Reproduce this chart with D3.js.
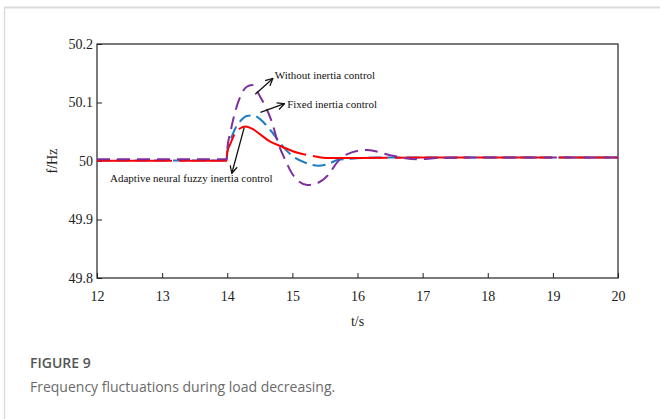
<!DOCTYPE html>
<html><head><meta charset="utf-8">
<script src="https://cdn.jsdelivr.net/npm/d3@7"></script>
<style>
html,body{margin:0;padding:0;background:#fff;}
svg{display:block;}
.serif{font-family:'Liberation Serif','Times New Roman',serif;}
</style></head>
<body>
<svg id="chart" width="660" height="419"></svg>
<script>
// ---- data ----
const xTicks = [12, 13, 14, 15, 16, 17, 18, 19, 20];
const yTicks = [49.8, 49.9, 50, 50.1, 50.2];
const seriesNames = ["Fixed inertia control", "Adaptive neural fuzzy inertia control", "Without inertia control"];

const tFixed = [12, 13, 13.99, 14.0, 14.05, 14.1, 14.2, 14.3, 14.4, 14.5, 14.66, 14.9, 15.02, 15.2, 15.4, 15.55, 15.7, 15.9, 16.3, 17, 18, 19, 20];
const vFixed = [50.001, 50.001, 50.001, 50.015, 50.035, 50.05, 50.068, 50.077, 50.078, 50.072, 50.053, 50.019, 50.007, 49.997, 49.992, 49.995, 50.002, 50.004, 50.006, 50.006, 50.006, 50.006, 50.006];

const tAdaptive = [12, 13, 13.99, 14.0, 14.05, 14.1, 14.2, 14.28, 14.4, 14.5, 14.66, 14.85, 15.08, 15.3, 15.55, 16.0, 17, 18, 19, 20];
const vAdaptive = [50.0005, 50.0005, 50.0005, 50.015, 50.03, 50.043, 50.056, 50.059, 50.054, 50.046, 50.033, 50.024, 50.014, 50.009, 50.005, 50.005, 50.006, 50.006, 50.006, 50.006];

const tWithout = [12, 13, 13.99, 14.0, 14.05, 14.1, 14.2, 14.3, 14.38, 14.51, 14.69, 14.78, 14.89, 15.01, 15.23, 15.38, 15.55, 15.69, 15.81, 16.15, 16.5, 16.92, 17.23, 18, 19, 20];
const vWithout = [50.003, 50.003, 50.003, 50.02, 50.05, 50.075, 50.11, 50.127, 50.13, 50.109, 50.065, 50.031, 50.002, 49.976, 49.959, 49.962, 49.976, 49.998, 50.010, 50.019, 50.010, 50.003, 50.005, 50.006, 50.006, 50.006];

// ---- layout ----
const svg = d3.select("#chart");
const m = {left: 97, top: 44, right: 618, bottom: 278};
const x = d3.scaleLinear().domain([12, 20]).range([m.left, m.right]);
const y = d3.scaleLinear().domain([49.8, 50.2]).range([m.bottom, m.top]);

// frame of card
svg.append("line").attr("x1", 4).attr("x2", 660).attr("y1", 7.5).attr("y2", 7.5).attr("stroke", "#dcdcdc").attr("stroke-width", 2);
svg.append("line").attr("x1", 4.5).attr("x2", 4.5).attr("y1", 7).attr("y2", 419).attr("stroke", "#dcdcdc").attr("stroke-width", 1.5);

const serif = "'Liberation Serif','Times New Roman',serif";

// axes
const xAxis = d3.axisBottom(x).tickValues(xTicks).tickFormat(d3.format("d")).tickSizeInner(-5).tickSizeOuter(0).tickPadding(13);
const yAxis = d3.axisLeft(y).tickValues(yTicks).tickFormat(d => d === 50 ? "50" : d3.format(".1f")(d)).tickSizeInner(-5).tickSizeOuter(0).tickPadding(4);

const gx = svg.append("g").attr("transform", `translate(0,${m.bottom})`).call(xAxis);
const gy = svg.append("g").attr("transform", `translate(${m.left},0)`).call(yAxis);
[gx, gy].forEach(g => {
  g.attr("font-family", null).attr("font-size", null);
  g.selectAll("text").attr("class", "serif").style("font-family", serif).style("font-size", "14px").attr("fill", "#222");
  g.selectAll("line").attr("stroke", "#222");
  g.select(".domain").remove();
});

// box
svg.append("rect").attr("x", m.left).attr("y", m.top).attr("width", m.right - m.left).attr("height", m.bottom - m.top)
  .attr("fill", "none").attr("stroke", "#222").attr("stroke-width", 1.2);

// lines
const line = d3.line().x(d => x(d[0])).y(d => y(d[1])).curve(d3.curveMonotoneX);
const zip = (a, b) => a.map((t, i) => [t, b[i]]);

svg.append("path").datum(zip(tFixed, vFixed)).attr("d", line)
  .attr("fill", "none").attr("stroke", "#1f7cc7").attr("stroke-width", 2).attr("stroke-dasharray", "13,6");
svg.append("path").datum(zip(tAdaptive, vAdaptive)).attr("d", line)
  .attr("fill", "none").attr("stroke", "#ff0000").attr("stroke-width", 2).attr("stroke-dasharray", "75,7");
svg.append("path").datum(zip(tWithout, vWithout)).attr("d", line)
  .attr("fill", "none").attr("stroke", "#7e2f9e").attr("stroke-width", 2).attr("stroke-dasharray", "13,7");

// annotations
const defs = svg.append("defs");
defs.append("marker").attr("id", "arr").attr("viewBox", "0 0 10 10").attr("refX", 9).attr("refY", 5)
  .attr("markerWidth", 9).attr("markerHeight", 9).attr("orient", "auto-start-reverse").attr("markerUnits", "userSpaceOnUse")
  .append("path").attr("d", "M1,1 L9,5 L1,9").attr("fill", "none").attr("stroke", "#111").attr("stroke-width", 1.4);

function arrow(t1, v1, t2, v2) {
  svg.append("line").attr("x1", x(t1)).attr("y1", y(v1)).attr("x2", x(t2)).attr("y2", y(v2))
    .attr("stroke", "#111").attr("stroke-width", 1.3).attr("marker-end", "url(#arr)");
}
arrow(14.43, 50.114, 14.70, 50.141);
arrow(14.51, 50.083, 14.88, 50.098);
arrow(14.26, 50.057, 14.07, 49.979);

const ann = [
  {t: 14.73, v: 50.146, text: seriesNames[2]},
  {t: 14.92, v: 50.097, text: seriesNames[0]},
  {t: 12.2, v: 49.971, text: seriesNames[1]}
];
svg.selectAll(".ann").data(ann).join("text").attr("class", "ann")
  .attr("x", d => x(d.t)).attr("y", d => y(d.v)).attr("dy", "0.35em")
  .style("font-family", serif).style("font-size", "11px").attr("fill", "#111").text(d => d.text);

// axis titles
svg.append("text").attr("x", x(16)).attr("y", 326).attr("text-anchor", "middle")
  .style("font-family", serif).style("font-size", "14px").attr("fill", "#222").text("t/s");
svg.append("text").attr("transform", `translate(57,${y(50)}) rotate(-90)`).attr("text-anchor", "middle")
  .style("font-family", serif).style("font-size", "14px").attr("fill", "#222").text("f/Hz");

// caption
svg.append("text").attr("x", 30).attr("y", 368).style("font-family", "'Open Sans',sans-serif").style("font-size", "14px")
  .attr("font-weight", 600).attr("fill", "#555").text("FIGURE 9");
svg.append("text").attr("x", 30).attr("y", 392).style("font-family", "'Open Sans',sans-serif").style("font-size", "14px")
  .attr("fill", "#6a6a6a").text("Frequency fluctuations during load decreasing.");
</script>
</body></html>
